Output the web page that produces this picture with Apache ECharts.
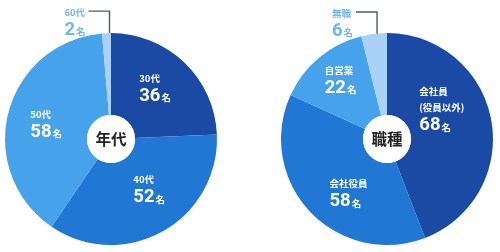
<!DOCTYPE html>
<html>
<head>
<meta charset="utf-8">
<script src="https://cdn.jsdelivr.net/npm/echarts@6/dist/echarts.min.js"></script>
<style>
html,body{margin:0;padding:0;background:#fff;}
#c{width:500px;height:252px;}
</style>
</head>
<body>
<div id="c"></div>
<script>
// ---- data ----
var ageTitle = '年代';
var ageLabels = ['30代', '40代', '50代', '60代'];
var ageValues = [36, 52, 58, 2];

var jobTitle = '職種';
var jobLabels = ['会社員\n(役員以外)', '会社役員', '自営業', '無職'];
var jobValues = [68, 58, 22, 6];

var unit = '名';

// ---- styles ----
var colors = ['#1b4aa4', '#2178d4', '#47a2ec', '#a8d1f5'];
var outsideColor = '#6fb6ef';
var lineColor = '#4f5a64';
var FONT = '"Noto Sans CJK JP", sans-serif';
var NUMFONT = 'Roboto, "Noto Sans CJK JP", sans-serif';

// per-item label nudges (pixels) for inside labels
var ageNudge = [[-3, -3], [5, -10], [1, 1], [0, 0]];
var jobNudge = [[-12, -18], [11, 7], [-3, -8], [0, 0]];

function rich(color) {
  return {
    s: {fontFamily: FONT, fontSize: 9.5, fontWeight: 'bold', color: color, lineHeight: 16},
    n: {fontFamily: NUMFONT, fontSize: 18.5, fontWeight: 'bold', color: color, lineHeight: 20},
    u: {fontFamily: FONT, fontSize: 9.5, fontWeight: 'bold', color: color, lineHeight: 20, padding: [3, 0, 0, 1]}
  };
}

function fmt(labels) {
  return function (p) {
    var parts = labels[p.dataIndex].split('\n').map(function (t) { return '{s|' + t + '}'; });
    return parts.join('\n') + '\n{n|' + p.value + '}{u|' + unit + '}';
  };
}

function makeLayout(nudges, n) {
  return function (p) {
    var r = p.labelRect;
    if (p.dataIndex === n - 1 && p.labelLinePoints) {
      var pts = p.labelLinePoints;
      var vx = pts[0][0] + 3;
      var ly = pts[1][1];
      var hx = vx - Math.abs(pts[1][0] - pts[2][0]);
      return {
        labelLinePoints: [[vx, pts[0][1] + 10], [vx, ly], [hx, ly]],
        x: hx - 3 - r.width,
        y: ly - 7,
        align: 'left',
        verticalAlign: 'top'
      };
    }
    var d = nudges[p.dataIndex];
    return {x: r.x + d[0], y: r.y + r.height / 2 + d[1], align: 'left'};
  };
}

function buildData(labels, values) {
  var n = values.length;
  return values.map(function (v, i) {
    var item = {name: labels[i], value: v, itemStyle: {color: colors[i]}};
    if (i === n - 1) {
      item.label = {position: 'outside', rich: rich(outsideColor), color: outsideColor};
      item.labelLine = {show: true, length: 22, length2: 21, lineStyle: {color: lineColor, width: 1.4}};
    }
    return item;
  });
}

function pieSeries(center, labels, values, nudges) {
  return {
    type: 'pie',
    center: center,
    radius: [24, 106],
    startAngle: 90,
    clockwise: true,
    silent: true,
    animation: false,
    avoidLabelOverlap: false,
    itemStyle: {borderWidth: 0},
    label: {
      show: true,
      position: 'inside',
      formatter: fmt(labels),
      rich: rich('#ffffff'),
      color: '#fff'
    },
    labelLine: {show: false},
    labelLayout: makeLayout(nudges, values.length),
    data: buildData(labels, values)
  };
}

function centerSeries(center, title) {
  return {
    type: 'pie',
    center: center,
    radius: [0, 24],
    silent: true,
    animation: false,
    itemStyle: {color: '#ffffff'},
    label: {
      show: true,
      position: 'center',
      formatter: title,
      fontFamily: FONT,
      fontSize: 15.5,
      fontWeight: 'bold',
      color: '#222222'
    },
    labelLine: {show: false},
    data: [{value: 1, name: title}]
  };
}

var chart = echarts.init(document.getElementById('c'), null, {renderer: 'canvas'});
chart.setOption({
  animation: false,
  series: [
    pieSeries([111, 139], ageLabels, ageValues, ageNudge),
    pieSeries([387, 139], jobLabels, jobValues, jobNudge),
    centerSeries([111, 139], ageTitle),
    centerSeries([387, 139], jobTitle)
  ]
});
</script>
</body>
</html>
